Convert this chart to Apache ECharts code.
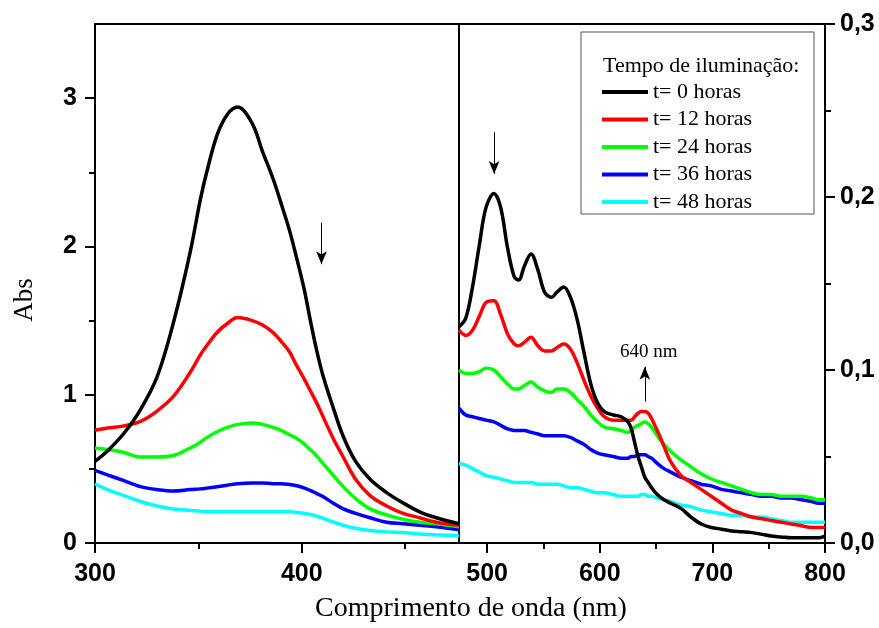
<!DOCTYPE html>
<html>
<head>
<meta charset="utf-8">
<script src="https://cdn.jsdelivr.net/npm/echarts@6/dist/echarts.min.js"></script>
<style>
  html, body { margin: 0; padding: 0; background: #ffffff; }
  #chart { width: 879px; height: 628px; }
</style>
</head>
<body>
<div id="chart"></div>
<script>
// Illumination times (legend) and line colours
const seriesNames = ['t= 0 horas', 't= 12 horas', 't= 24 horas', 't= 36 horas', 't= 48 horas'];
const seriesColors = ['#000000', '#ff0000', '#00ff00', '#0000ff', '#00ffff'];

// UV band (left panel, left axis), wavelength in nm
const uvWavelength = [300, 306, 314, 322, 330, 338, 346, 351, 354, 359, 364, 369, 376, 381, 386, 390,
  394, 397, 401, 404, 407, 410, 415, 420, 426, 433, 441, 449, 457, 465, 476];
const uvT0  = [0.55, 0.62, 0.74, 0.90, 1.12, 1.49, 1.96, 2.32, 2.50, 2.75, 2.89, 2.94, 2.83, 2.64, 2.46, 2.29,
  2.11, 1.95, 1.72, 1.51, 1.31, 1.14, 0.92, 0.72, 0.55, 0.43, 0.34, 0.27, 0.21, 0.17, 0.13];
const uvT12 = [0.76, 0.775, 0.79, 0.82, 0.89, 0.99, 1.15, 1.27, 1.33, 1.42, 1.48, 1.52, 1.50, 1.47, 1.42, 1.36,
  1.29, 1.21, 1.11, 1.03, 0.95, 0.86, 0.71, 0.58, 0.43, 0.32, 0.25, 0.20, 0.17, 0.14, 0.12];
const uvT24 = [0.64, 0.63, 0.61, 0.58, 0.58, 0.59, 0.64, 0.68, 0.71, 0.75, 0.78, 0.80, 0.81, 0.80, 0.78, 0.76,
  0.73, 0.71, 0.67, 0.63, 0.59, 0.54, 0.46, 0.38, 0.30, 0.23, 0.19, 0.16, 0.14, 0.13, 0.11];
const uvT36 = [0.49, 0.46, 0.42, 0.38, 0.36, 0.35, 0.36, 0.365, 0.37, 0.38, 0.39, 0.40, 0.405, 0.405, 0.40, 0.40,
  0.395, 0.388, 0.372, 0.355, 0.335, 0.315, 0.27, 0.23, 0.20, 0.17, 0.14, 0.13, 0.12, 0.11, 0.09];
const uvT48 = [0.40, 0.36, 0.32, 0.28, 0.25, 0.23, 0.22, 0.215, 0.21, 0.21, 0.21, 0.21, 0.21, 0.21, 0.21, 0.21,
  0.21, 0.207, 0.20, 0.192, 0.182, 0.168, 0.143, 0.12, 0.10, 0.085, 0.075, 0.07, 0.06, 0.055, 0.05];

// Visible band (right panel, right axis), wavelength in nm
const visWavelength = [475, 481, 487, 493, 499, 506, 512, 518, 524, 528, 533, 539, 545, 551, 557, 562, 568, 574,
  580, 586, 592, 598, 604, 612, 619, 625, 628, 631, 634, 637, 640, 643, 646, 651, 657, 663, 672, 681, 690, 699,
  708, 717, 726, 735, 744, 752, 761, 770, 779, 788, 794, 800];
const visT0  = [0.125, 0.130, 0.148, 0.172, 0.194, 0.202, 0.194, 0.171, 0.154, 0.152, 0.160, 0.167, 0.158, 0.145,
  0.142, 0.145, 0.148, 0.142, 0.129, 0.110, 0.092, 0.081, 0.076, 0.074, 0.073, 0.070, 0.066, 0.058, 0.050, 0.044,
  0.038, 0.035, 0.032, 0.028, 0.025, 0.023, 0.020, 0.015, 0.011, 0.009, 0.008, 0.007, 0.0065, 0.006, 0.005, 0.004,
  0.0035, 0.003, 0.003, 0.003, 0.003, 0.004];
const visT12 = [0.123, 0.120, 0.123, 0.131, 0.139, 0.140, 0.132, 0.121, 0.115, 0.114, 0.116, 0.119, 0.114, 0.111,
  0.111, 0.113, 0.115, 0.112, 0.104, 0.094, 0.085, 0.078, 0.073, 0.071, 0.071, 0.071, 0.071, 0.073, 0.075, 0.076,
  0.076, 0.075, 0.072, 0.065, 0.056, 0.047, 0.039, 0.035, 0.031, 0.027, 0.023, 0.019, 0.017, 0.015, 0.014, 0.013,
  0.012, 0.011, 0.010, 0.009, 0.009, 0.009];
const visT24 = [0.100, 0.098, 0.098, 0.099, 0.101, 0.100, 0.096, 0.092, 0.089, 0.089, 0.091, 0.093, 0.090, 0.088,
  0.087, 0.089, 0.089, 0.087, 0.083, 0.079, 0.074, 0.070, 0.067, 0.066, 0.065, 0.064, 0.065, 0.067, 0.068, 0.069,
  0.070, 0.069, 0.067, 0.062, 0.057, 0.053, 0.048, 0.044, 0.040, 0.037, 0.035, 0.033, 0.031, 0.029, 0.028, 0.028,
  0.027, 0.027, 0.027, 0.026, 0.025, 0.025];
const visT36 = [0.078, 0.074, 0.073, 0.072, 0.071, 0.070, 0.068, 0.066, 0.065, 0.065, 0.065, 0.064, 0.063, 0.062,
  0.062, 0.062, 0.062, 0.061, 0.059, 0.057, 0.054, 0.052, 0.051, 0.050, 0.049, 0.049, 0.050, 0.050, 0.051, 0.051,
  0.051, 0.050, 0.049, 0.046, 0.043, 0.041, 0.038, 0.036, 0.034, 0.033, 0.031, 0.030, 0.029, 0.028, 0.027, 0.027,
  0.026, 0.026, 0.025, 0.024, 0.023, 0.023];
const visT48 = [0.046, 0.045, 0.043, 0.041, 0.039, 0.038, 0.037, 0.036, 0.035, 0.035, 0.035, 0.035, 0.034, 0.034,
  0.034, 0.034, 0.033, 0.032, 0.032, 0.031, 0.030, 0.029, 0.029, 0.028, 0.027, 0.027, 0.027, 0.027, 0.027, 0.028,
  0.028, 0.027, 0.027, 0.026, 0.025, 0.024, 0.022, 0.021, 0.019, 0.018, 0.017, 0.016, 0.016, 0.015, 0.015, 0.014,
  0.013, 0.012, 0.012, 0.012, 0.012, 0.012];

// Axis ranges and ticks
const uvRange = [300, 476];
const visRange = [475, 800];
const uvXTicks = [300, 400];
const uvXMinor = [350, 450];
const visXTicks = [500, 600, 700, 800];
const visXMinor = [550, 650, 750];
const leftYTicks = [0, 1, 2, 3];
const leftYMinor = [0.5, 1.5, 2.5];
const rightYTicks = [0, 0.1, 0.2, 0.3];
const rightYLabels = ['0,0', '0,1', '0,2', '0,3'];
const rightYMinor = [0.05, 0.15, 0.25];

// Annotations: arrows [x, yStart, yTip] and the band label
const uvArrow = [409.5, 2.16, 1.88];
const visDownArrow = [506.2, 0.2374, 0.2133];
const visUpArrow = [640, 0.0817, 0.1019];
const bandLabel = { text: '640 nm', x: 643.6, y: 0.1106 };

const legendTitle = 'Tempo de iluminação:';
const xTitle = 'Comprimento de onda (nm)';
const yTitle = 'Abs';

const uvSets = [uvT0, uvT12, uvT24, uvT36, uvT48];
const visSets = [visT0, visT12, visT24, visT36, visT48];

const SERIF = '"Liberation Serif", "Times New Roman", serif';
const SANS = '"Liberation Sans", Arial, sans-serif';
const axisLineStyle = { color: '#000', width: 2 };
const tickFont = { color: '#000', fontFamily: SANS, fontWeight: 'bold', fontSize: 25 };

function pairs(xs, ys) { return xs.map((x, i) => [x, ys[i]]); }

function bottomAxis(grid, range, major, minorVals) {
  return [
    {
      type: 'value', gridIndex: grid, min: range[0], max: range[1], position: 'bottom',
      axisLine: { show: true, onZero: false, lineStyle: axisLineStyle },
      axisTick: { show: true, inside: false, length: 10, customValues: major, lineStyle: { color: '#000', width: 2 } },
      axisLabel: { show: true, customValues: major, margin: 19, ...tickFont },
      splitLine: { show: false }
    },
    {
      type: 'value', gridIndex: grid, min: range[0], max: range[1], position: 'bottom',
      axisLine: { show: false },
      axisTick: { show: true, inside: false, length: 6, customValues: minorVals, lineStyle: { color: '#000', width: 2 } },
      axisLabel: { show: false },
      splitLine: { show: false }
    },
    {
      type: 'value', gridIndex: grid, min: range[0], max: range[1], position: 'top',
      axisLine: { show: true, onZero: false, lineStyle: axisLineStyle },
      axisTick: { show: false }, axisLabel: { show: false }, splitLine: { show: false }
    }
  ];
}

const xAxes = [
  ...bottomAxis(0, uvRange, uvXTicks, uvXMinor),
  ...bottomAxis(1, visRange, visXTicks, visXMinor)
];

const yAxes = [
  { // 0: absorbance, UV panel
    type: 'value', gridIndex: 0, min: 0, max: 3.5, position: 'left',
    axisLine: { show: true, onZero: false, lineStyle: axisLineStyle },
    axisTick: { show: true, length: 10, customValues: leftYTicks, lineStyle: { color: '#000', width: 2 } },
    axisLabel: { show: true, customValues: leftYTicks, margin: 18, ...tickFont },
    splitLine: { show: false }
  },
  { // 1: minor ticks, UV panel
    type: 'value', gridIndex: 0, min: 0, max: 3.5, position: 'left',
    axisLine: { show: false },
    axisTick: { show: true, length: 6, customValues: leftYMinor, lineStyle: { color: '#000', width: 2 } },
    axisLabel: { show: false }, splitLine: { show: false }
  },
  { // 2: panel divider
    type: 'value', gridIndex: 1, min: 0, max: 0.3, position: 'left',
    axisLine: { show: true, onZero: false, lineStyle: axisLineStyle },
    axisTick: { show: false }, axisLabel: { show: false }, splitLine: { show: false }
  },
  { // 3: absorbance, visible panel
    type: 'value', gridIndex: 1, min: 0, max: 0.3, position: 'right',
    axisLine: { show: true, onZero: false, lineStyle: axisLineStyle },
    axisTick: { show: true, length: 10, customValues: rightYTicks, lineStyle: { color: '#000', width: 2 } },
    axisLabel: {
      show: true, customValues: rightYTicks, margin: 15, ...tickFont,
      formatter: v => {
        const i = rightYTicks.findIndex(t => Math.abs(t - v) < 1e-9);
        return i >= 0 ? rightYLabels[i] : '';
      }
    },
    splitLine: { show: false }
  },
  { // 4: minor ticks, visible panel
    type: 'value', gridIndex: 1, min: 0, max: 0.3, position: 'right',
    axisLine: { show: false },
    axisTick: { show: true, length: 6, customValues: rightYMinor, lineStyle: { color: '#000', width: 2 } },
    axisLabel: { show: false }, splitLine: { show: false }
  }
];

function arrowLine(a) {
  return {
    silent: true, animation: false,
    symbol: ['none', 'arrow'], symbolSize: [8, 13],
    lineStyle: { color: '#000', width: 1, type: 'solid' },
    label: { show: false },
    emphasis: { disabled: true },
    data: [[{ coord: [a[0], a[1]] }, { coord: [a[0], a[2]] }]]
  };
}

const series = [];
seriesNames.forEach((name, i) => {
  const common = {
    name, type: 'line', symbol: 'none', showSymbol: false, smooth: 0.35,
    lineStyle: { color: seriesColors[i], width: 3.5 },
    itemStyle: { color: seriesColors[i] },
    emphasis: { disabled: true },
    animation: false, z: 10 - i
  };
  const uv = { ...common, xAxisIndex: 0, yAxisIndex: 0, data: pairs(uvWavelength, uvSets[i]) };
  const vis = { ...common, xAxisIndex: 3, yAxisIndex: 3, data: pairs(visWavelength, visSets[i]) };
  if (i === 0) {
    uv.markLine = arrowLine(uvArrow);
    vis.markLine = arrowLine(visDownArrow);
  }
  if (i === 1) {
    vis.markLine = arrowLine(visUpArrow);
    vis.markPoint = {
      silent: true, animation: false, symbol: 'circle', symbolSize: 0,
      label: {
        show: true, position: 'inside', formatter: bandLabel.text,
        color: '#000', fontFamily: SERIF, fontSize: 19
      },
      data: [{ coord: [bandLabel.x, bandLabel.y] }]
    };
  }
  series.push(uv, vis);
});

const chart = echarts.init(document.getElementById('chart'), null, { renderer: 'canvas' });
chart.setOption({
  backgroundColor: '#ffffff',
  animation: false,
  grid: [
    { left: 95, right: 420, top: 24, bottom: 85 },
    { left: 459, right: 54, top: 24, bottom: 85 }
  ],
  xAxis: xAxes,
  yAxis: yAxes,
  legend: {
    data: seriesNames.map((name, i) => ({ name, itemStyle: { color: seriesColors[i] } })),
    orient: 'vertical',
    left: 602, top: 81, padding: 0,
    icon: 'path://M0 0H46V4H0Z',
    itemWidth: 46, itemHeight: 20, itemGap: 5.5,
    selectedMode: false,
    textStyle: { color: '#000', fontFamily: SERIF, fontSize: 22 }
  },
  graphic: [
    {
      type: 'rect', silent: true, z: 1,
      shape: { x: 581, y: 32, width: 233, height: 182 },
      style: { fill: 'none', stroke: '#555', lineWidth: 1 }
    },
    {
      type: 'text', silent: true, x: 603, y: 66,
      style: { text: legendTitle, fill: '#000', font: '22px ' + SERIF, textAlign: 'left', textVerticalAlign: 'middle' }
    },
    {
      type: 'text', silent: true, x: 471, y: 609,
      style: { text: xTitle, fill: '#000', font: '28px ' + SERIF, textAlign: 'center', textVerticalAlign: 'middle' }
    },
    {
      type: 'text', silent: true, x: 25, y: 300, rotation: Math.PI / 2,
      style: { text: yTitle, fill: '#000', font: '27px ' + SERIF, textAlign: 'center', textVerticalAlign: 'middle' }
    }
  ],
  series
});
</script>
</body>
</html>
